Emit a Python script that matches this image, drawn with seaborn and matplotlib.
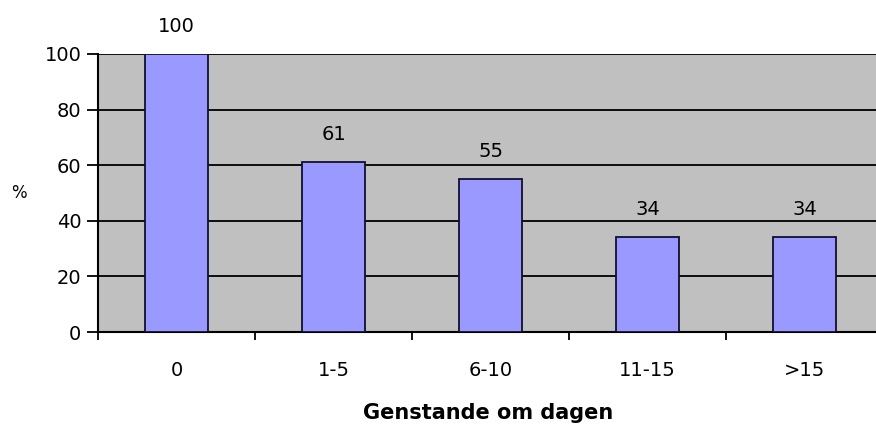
import pandas as pd
import matplotlib
matplotlib.use("Agg")
import matplotlib.pyplot as plt
import seaborn as sns

# data
categories = ["0", "1-5", "6-10", "11-15", ">15"]
values = [100, 61, 55, 34, 34]

df = pd.DataFrame({"kategori": categories, "procent": values})

sns.set_style("white")
plt.rcParams["font.family"] = ["DejaVu Sans"]
plt.rcParams["text.color"] = "black"
plt.rcParams["xtick.color"] = "black"
plt.rcParams["ytick.color"] = "black"
plt.rcParams["axes.labelcolor"] = "black"

fig = plt.figure(figsize=(8.76, 4.24), dpi=100)
ax = fig.add_axes([98 / 876, 92 / 424, 778 / 876, 278 / 424])
ax.set_facecolor("#c0c0c0")

sns.barplot(data=df, x="kategori", y="procent", color="#9999ff",
            saturation=1, width=0.4, edgecolor="#101030", linewidth=1.3,
            ax=ax, zorder=3)

ax.set_ylim(0, 100)
ax.set_xlim(-0.5, 4.455)
ax.set_yticks(range(0, 101, 20))
ax.yaxis.grid(True, color="black", linewidth=1.3, zorder=1)
ax.set_axisbelow(True)

# ticks between categories, labels centered
ax.set_xticks([-0.5, 0.5, 1.5, 2.5, 3.5])
ax.set_xticklabels([])
ax.set_xticks(range(len(categories)), minor=True)
ax.set_xticklabels(categories, minor=True)
ax.tick_params(axis="x", which="major", bottom=True, direction="out",
               length=6, width=1.3, color="black")
ax.tick_params(axis="x", which="minor", bottom=False, length=0, pad=21, labelsize=14)
ax.tick_params(axis="y", left=True, direction="out", length=8, width=1.3,
               color="black", labelsize=14, pad=4)

for s in ["top", "right"]:
    ax.spines[s].set_visible(False)
for s in ["left", "bottom"]:
    ax.spines[s].set_color("black")
    ax.spines[s].set_linewidth(1.5)

ax.bar_label(ax.containers[0], labels=[str(v) for v in values], padding=13, fontsize=14)

ax.set_xlabel("Genstande om dagen", fontsize=15, fontweight="bold", va="center")
ax.xaxis.set_label_coords(0.502, -0.292)
ax.set_ylabel("%", fontsize=12, rotation=0, va="center", ha="center")
ax.yaxis.set_label_coords(-0.102, 0.5)

fig.savefig("out.png", dpi=100)
